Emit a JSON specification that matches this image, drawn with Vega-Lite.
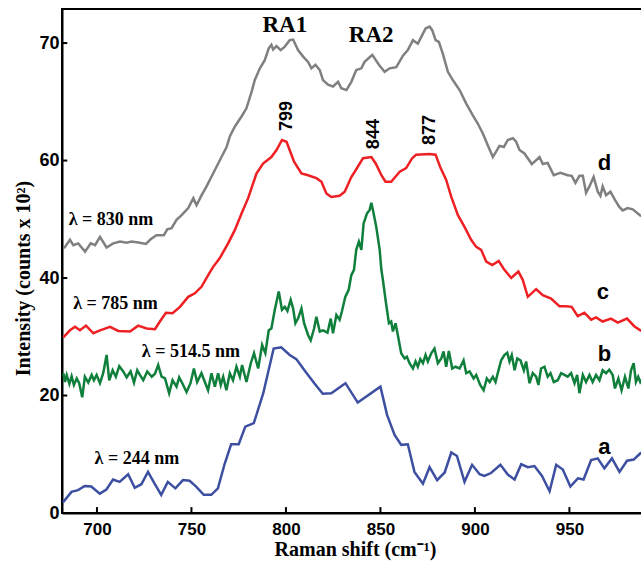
{
  "$schema": "https://vega.github.io/schema/vega-lite/v6.json",
  "width": 583,
  "height": 504,
  "autosize": {"type": "none"},
  "padding": {"left": 62, "top": 9, "right": 0, "bottom": 49},
  "background": "white",
  "config": {
    "view": {"stroke": "black", "strokeWidth": 2},
    "axis": {"grid": false, "domainColor": "black", "domainWidth": 2, "ticks": false, "labelFont": "Liberation Sans", "labelFontWeight": "bold", "labelColor": "black", "titleFont": "Liberation Serif", "titleFontWeight": "bold", "titleColor": "black", "titleFontSize": 20}
  },
  "datasets": {
    "spectra": [
      {"s":"a","x":682,"y":1.8},{"s":"a","x":686.5,"y":3.6},{"s":"a","x":690,"y":3.9},{"s":"a","x":693.5,"y":4.6},{"s":"a","x":697,"y":4.5},{"s":"a","x":701.5,"y":3.3},{"s":"a","x":705,"y":4.0},{"s":"a","x":708.5,"y":5.7},{"s":"a","x":712,"y":5.3},{"s":"a","x":716.5,"y":6.6},{"s":"a","x":720,"y":4.3},{"s":"a","x":723.5,"y":4.9},{"s":"a","x":727,"y":7.0},{"s":"a","x":730.5,"y":5.0},{"s":"a","x":734,"y":3.1},{"s":"a","x":737.5,"y":5.3},{"s":"a","x":741.5,"y":4.2},{"s":"a","x":745.5,"y":5.6},{"s":"a","x":749,"y":5.5},{"s":"a","x":752.5,"y":4.5},{"s":"a","x":756.5,"y":3.1},{"s":"a","x":760.5,"y":3.1},{"s":"a","x":764,"y":4.2},{"s":"a","x":767.5,"y":8.3},{"s":"a","x":771,"y":11.7},{"s":"a","x":775,"y":11.7},{"s":"a","x":778.5,"y":14.7},{"s":"a","x":783,"y":15.3},{"s":"a","x":788,"y":20.4},{"s":"a","x":793.5,"y":28.0},{"s":"a","x":797.5,"y":28.2},{"s":"a","x":802,"y":26.9},{"s":"a","x":805.5,"y":26.2},{"s":"a","x":810,"y":24.2},{"s":"a","x":815,"y":22.1},{"s":"a","x":819.5,"y":20.3},{"s":"a","x":824,"y":20.4},{"s":"a","x":831.5,"y":22.1},{"s":"a","x":838,"y":18.8},{"s":"a","x":850,"y":21.5},{"s":"a","x":853.5,"y":16.7},{"s":"a","x":857.5,"y":13.3},{"s":"a","x":861,"y":11.6},{"s":"a","x":864.5,"y":11.7},{"s":"a","x":868,"y":7.0},{"s":"a","x":872.5,"y":5.0},{"s":"a","x":876,"y":7.8},{"s":"a","x":880,"y":5.6},{"s":"a","x":884,"y":6.9},{"s":"a","x":887.5,"y":10.3},{"s":"a","x":890.5,"y":9.7},{"s":"a","x":894.5,"y":5.3},{"s":"a","x":898.5,"y":8.2},{"s":"a","x":902.5,"y":6.6},{"s":"a","x":905,"y":6.3},{"s":"a","x":908.5,"y":6.8},{"s":"a","x":913.5,"y":8.2},{"s":"a","x":917.5,"y":6.5},{"s":"a","x":921,"y":5.7},{"s":"a","x":924.5,"y":8.3},{"s":"a","x":928,"y":7.8},{"s":"a","x":931.5,"y":8.0},{"s":"a","x":935.5,"y":6.3},{"s":"a","x":939.5,"y":3.7},{"s":"a","x":943,"y":8.2},{"s":"a","x":946.5,"y":7.4},{"s":"a","x":950.5,"y":4.5},{"s":"a","x":954.5,"y":5.9},{"s":"a","x":957.5,"y":5.7},{"s":"a","x":961.5,"y":9.0},{"s":"a","x":965,"y":9.3},{"s":"a","x":968.5,"y":7.6},{"s":"a","x":972.5,"y":9.3},{"s":"a","x":976.5,"y":7.0},{"s":"a","x":980.5,"y":8.9},{"s":"a","x":984,"y":9.1},{"s":"a","x":988,"y":10.3},
      {"s":"b","x":682.2,"y":23.8},{"s":"b","x":683.1,"y":22.3},{"s":"b","x":684,"y":23.5},{"s":"b","x":685.4,"y":22.0},{"s":"b","x":686.6,"y":23.3},{"s":"b","x":687.8,"y":21.8},{"s":"b","x":689.3,"y":22.9},{"s":"b","x":690.6,"y":22.1},{"s":"b","x":692.2,"y":19.7},{"s":"b","x":693.6,"y":23.2},{"s":"b","x":695.4,"y":22.2},{"s":"b","x":697.2,"y":23.5},{"s":"b","x":698.4,"y":22.6},{"s":"b","x":699.8,"y":23.5},{"s":"b","x":701.6,"y":22.1},{"s":"b","x":703.3,"y":23.8},{"s":"b","x":705.1,"y":26.9},{"s":"b","x":706.5,"y":22.6},{"s":"b","x":708.3,"y":24.3},{"s":"b","x":710,"y":23.2},{"s":"b","x":711.8,"y":25.0},{"s":"b","x":713.9,"y":24.1},{"s":"b","x":715.7,"y":23.1},{"s":"b","x":717.8,"y":24.1},{"s":"b","x":719.6,"y":22.2},{"s":"b","x":721.3,"y":24.3},{"s":"b","x":722.7,"y":23.5},{"s":"b","x":724.5,"y":22.6},{"s":"b","x":726.6,"y":24.1},{"s":"b","x":729,"y":23.2},{"s":"b","x":730.7,"y":23.7},{"s":"b","x":732.4,"y":25.2},{"s":"b","x":734.2,"y":23.2},{"s":"b","x":736,"y":22.9},{"s":"b","x":738.2,"y":20.4},{"s":"b","x":740,"y":22.6},{"s":"b","x":742.1,"y":21.5},{"s":"b","x":743.5,"y":23.1},{"s":"b","x":745.3,"y":22.0},{"s":"b","x":747.4,"y":20.6},{"s":"b","x":749.5,"y":22.1},{"s":"b","x":751.3,"y":24.6},{"s":"b","x":753,"y":22.3},{"s":"b","x":755.3,"y":23.8},{"s":"b","x":757.1,"y":22.3},{"s":"b","x":758.8,"y":20.9},{"s":"b","x":760.6,"y":23.8},{"s":"b","x":762.4,"y":21.5},{"s":"b","x":764.1,"y":23.8},{"s":"b","x":765.5,"y":21.8},{"s":"b","x":766.8,"y":23.2},{"s":"b","x":768.5,"y":20.9},{"s":"b","x":770.3,"y":23.8},{"s":"b","x":772,"y":22.6},{"s":"b","x":773.8,"y":24.9},{"s":"b","x":775.6,"y":23.2},{"s":"b","x":776.8,"y":25.2},{"s":"b","x":779.1,"y":22.3},{"s":"b","x":781.4,"y":25.5},{"s":"b","x":783.1,"y":27.2},{"s":"b","x":785.3,"y":24.6},{"s":"b","x":787.4,"y":28.6},{"s":"b","x":789.1,"y":27.2},{"s":"b","x":790.9,"y":31.1},{"s":"b","x":792.3,"y":31.4},{"s":"b","x":794.1,"y":34.6},{"s":"b","x":796.2,"y":37.7},{"s":"b","x":797.9,"y":34.6},{"s":"b","x":799.4,"y":35.1},{"s":"b","x":800.8,"y":34.4},{"s":"b","x":802.5,"y":36.3},{"s":"b","x":803.8,"y":34.8},{"s":"b","x":805,"y":32.3},{"s":"b","x":806.4,"y":33.1},{"s":"b","x":808.2,"y":34.8},{"s":"b","x":809.6,"y":32.3},{"s":"b","x":811.7,"y":30.3},{"s":"b","x":813.1,"y":29.4},{"s":"b","x":814.9,"y":31.4},{"s":"b","x":816.1,"y":33.4},{"s":"b","x":817.9,"y":30.9},{"s":"b","x":819.6,"y":31.1},{"s":"b","x":822,"y":30.7},{"s":"b","x":823.7,"y":33.1},{"s":"b","x":824.9,"y":30.6},{"s":"b","x":826.7,"y":33.7},{"s":"b","x":828.4,"y":32.9},{"s":"b","x":829.6,"y":34.3},{"s":"b","x":831.4,"y":36.8},{"s":"b","x":833.2,"y":38.0},{"s":"b","x":834.6,"y":40.5},{"s":"b","x":836,"y":41.4},{"s":"b","x":837.2,"y":44.8},{"s":"b","x":838.6,"y":46.2},{"s":"b","x":839.9,"y":44.8},{"s":"b","x":841.1,"y":49.3},{"s":"b","x":842.9,"y":51.0},{"s":"b","x":844.3,"y":51.6},{"s":"b","x":845.2,"y":52.8},{"s":"b","x":846.4,"y":51.0},{"s":"b","x":847.8,"y":48.7},{"s":"b","x":849.6,"y":44.8},{"s":"b","x":850.5,"y":41.4},{"s":"b","x":851.3,"y":39.7},{"s":"b","x":852.7,"y":36.3},{"s":"b","x":854.5,"y":32.3},{"s":"b","x":855.7,"y":32.6},{"s":"b","x":856.6,"y":30.9},{"s":"b","x":858,"y":32.3},{"s":"b","x":859.2,"y":30.3},{"s":"b","x":861,"y":27.2},{"s":"b","x":862.8,"y":26.3},{"s":"b","x":864,"y":26.6},{"s":"b","x":865.4,"y":25.5},{"s":"b","x":867.2,"y":24.6},{"s":"b","x":868.6,"y":25.8},{"s":"b","x":869.8,"y":24.9},{"s":"b","x":871.1,"y":26.2},{"s":"b","x":872.5,"y":25.5},{"s":"b","x":873.9,"y":26.9},{"s":"b","x":875.1,"y":25.8},{"s":"b","x":876.9,"y":27.2},{"s":"b","x":878.6,"y":28.0},{"s":"b","x":880.4,"y":25.5},{"s":"b","x":882.2,"y":26.3},{"s":"b","x":883.4,"y":27.5},{"s":"b","x":884.8,"y":24.9},{"s":"b","x":886.2,"y":27.6},{"s":"b","x":888,"y":24.6},{"s":"b","x":889.7,"y":24.9},{"s":"b","x":891.9,"y":24.6},{"s":"b","x":894,"y":26.0},{"s":"b","x":895.4,"y":23.8},{"s":"b","x":897.2,"y":24.1},{"s":"b","x":899.3,"y":22.9},{"s":"b","x":900.7,"y":23.5},{"s":"b","x":902.8,"y":21.8},{"s":"b","x":904.6,"y":20.9},{"s":"b","x":906.3,"y":22.9},{"s":"b","x":907.8,"y":22.3},{"s":"b","x":909.5,"y":23.2},{"s":"b","x":910.9,"y":22.3},{"s":"b","x":912.4,"y":24.2},{"s":"b","x":913.9,"y":26.0},{"s":"b","x":915.6,"y":26.9},{"s":"b","x":917.1,"y":27.3},{"s":"b","x":918.3,"y":25.8},{"s":"b","x":919.5,"y":26.9},{"s":"b","x":921,"y":24.3},{"s":"b","x":922.4,"y":26.3},{"s":"b","x":924.1,"y":26.0},{"s":"b","x":925.9,"y":24.3},{"s":"b","x":927.1,"y":25.8},{"s":"b","x":928.9,"y":22.1},{"s":"b","x":930.6,"y":23.8},{"s":"b","x":932.4,"y":23.2},{"s":"b","x":933.6,"y":21.8},{"s":"b","x":935,"y":24.6},{"s":"b","x":936.8,"y":24.9},{"s":"b","x":938.5,"y":23.2},{"s":"b","x":940,"y":23.8},{"s":"b","x":941.7,"y":22.3},{"s":"b","x":943.8,"y":22.6},{"s":"b","x":945.6,"y":23.8},{"s":"b","x":947.4,"y":23.5},{"s":"b","x":949.1,"y":23.2},{"s":"b","x":950.9,"y":23.8},{"s":"b","x":952.7,"y":22.1},{"s":"b","x":954.1,"y":23.5},{"s":"b","x":955.3,"y":20.4},{"s":"b","x":957.1,"y":23.5},{"s":"b","x":958.8,"y":22.3},{"s":"b","x":960.6,"y":23.5},{"s":"b","x":962.3,"y":22.3},{"s":"b","x":964.1,"y":23.5},{"s":"b","x":965.9,"y":22.6},{"s":"b","x":967.6,"y":24.3},{"s":"b","x":969.4,"y":23.8},{"s":"b","x":971.1,"y":24.4},{"s":"b","x":972.9,"y":23.5},{"s":"b","x":974.1,"y":21.2},{"s":"b","x":975.9,"y":22.9},{"s":"b","x":977.6,"y":20.9},{"s":"b","x":979.4,"y":23.2},{"s":"b","x":981.2,"y":21.2},{"s":"b","x":982.6,"y":24.3},{"s":"b","x":984,"y":25.5},{"s":"b","x":985.2,"y":22.3},{"s":"b","x":986.4,"y":23.2},{"s":"b","x":987.5,"y":22.3},{"s":"b","x":989,"y":23.0},
      {"s":"c","x":682.2,"y":29.9},{"s":"c","x":685.7,"y":31.1},{"s":"c","x":688.4,"y":31.7},{"s":"c","x":691,"y":31.1},{"s":"c","x":694.2,"y":31.9},{"s":"c","x":698.1,"y":30.6},{"s":"c","x":701.6,"y":31.1},{"s":"c","x":706.9,"y":31.7},{"s":"c","x":711.3,"y":31.0},{"s":"c","x":717.5,"y":30.9},{"s":"c","x":721.8,"y":31.9},{"s":"c","x":726.3,"y":31.4},{"s":"c","x":730.7,"y":31.3},{"s":"c","x":733.3,"y":32.6},{"s":"c","x":736.5,"y":34.1},{"s":"c","x":740,"y":34.0},{"s":"c","x":743.9,"y":35.1},{"s":"c","x":748.3,"y":36.8},{"s":"c","x":751.8,"y":37.4},{"s":"c","x":755.3,"y":38.5},{"s":"c","x":759.4,"y":40.8},{"s":"c","x":761.5,"y":41.9},{"s":"c","x":765,"y":43.4},{"s":"c","x":769.4,"y":45.9},{"s":"c","x":773,"y":48.2},{"s":"c","x":776.5,"y":51.0},{"s":"c","x":780,"y":53.6},{"s":"c","x":784.4,"y":57.8},{"s":"c","x":787.9,"y":59.5},{"s":"c","x":792.3,"y":60.6},{"s":"c","x":795,"y":61.8},{"s":"c","x":797.9,"y":63.5},{"s":"c","x":800.3,"y":63.2},{"s":"c","x":804.3,"y":59.8},{"s":"c","x":808.2,"y":57.8},{"s":"c","x":811.7,"y":57.5},{"s":"c","x":816.1,"y":57.0},{"s":"c","x":818.8,"y":56.4},{"s":"c","x":821.4,"y":54.4},{"s":"c","x":824,"y":53.8},{"s":"c","x":828.4,"y":54.0},{"s":"c","x":831.1,"y":54.7},{"s":"c","x":834.6,"y":57.2},{"s":"c","x":836.4,"y":58.1},{"s":"c","x":840.8,"y":60.4},{"s":"c","x":845.2,"y":60.6},{"s":"c","x":847.5,"y":59.5},{"s":"c","x":850.5,"y":57.5},{"s":"c","x":852.7,"y":56.4},{"s":"c","x":855.7,"y":56.4},{"s":"c","x":860.2,"y":58.1},{"s":"c","x":863.6,"y":58.7},{"s":"c","x":866.8,"y":60.4},{"s":"c","x":868.9,"y":61.0},{"s":"c","x":876,"y":61.1},{"s":"c","x":879.2,"y":61.0},{"s":"c","x":881.6,"y":58.9},{"s":"c","x":884.8,"y":56.7},{"s":"c","x":887.5,"y":53.8},{"s":"c","x":891,"y":50.7},{"s":"c","x":894.5,"y":48.7},{"s":"c","x":898,"y":46.5},{"s":"c","x":900.7,"y":45.3},{"s":"c","x":903.3,"y":44.8},{"s":"c","x":906,"y":42.8},{"s":"c","x":909.2,"y":42.2},{"s":"c","x":912.6,"y":42.9},{"s":"c","x":915.6,"y":41.4},{"s":"c","x":919.2,"y":40.0},{"s":"c","x":923,"y":41.1},{"s":"c","x":925.3,"y":39.7},{"s":"c","x":928,"y":36.8},{"s":"c","x":932.4,"y":38.1},{"s":"c","x":935.9,"y":37.1},{"s":"c","x":940.3,"y":36.5},{"s":"c","x":944.7,"y":35.2},{"s":"c","x":948.2,"y":35.2},{"s":"c","x":951.2,"y":35.1},{"s":"c","x":954.4,"y":33.5},{"s":"c","x":957.9,"y":34.1},{"s":"c","x":961.5,"y":32.9},{"s":"c","x":964.1,"y":33.3},{"s":"c","x":967.6,"y":32.6},{"s":"c","x":972,"y":33.1},{"s":"c","x":975.6,"y":32.4},{"s":"c","x":980.5,"y":33.1},{"s":"c","x":984.3,"y":31.8},{"s":"c","x":988,"y":31.0},
      {"s":"d","x":682.5,"y":45.1},{"s":"d","x":683.1,"y":45.3},{"s":"d","x":685.7,"y":46.5},{"s":"d","x":687.5,"y":45.6},{"s":"d","x":690.1,"y":45.9},{"s":"d","x":693.7,"y":44.5},{"s":"d","x":696.7,"y":45.9},{"s":"d","x":699,"y":45.6},{"s":"d","x":701.6,"y":47.0},{"s":"d","x":705.1,"y":45.2},{"s":"d","x":708.6,"y":45.9},{"s":"d","x":712.2,"y":46.2},{"s":"d","x":715.7,"y":46.0},{"s":"d","x":718.3,"y":46.2},{"s":"d","x":722.7,"y":46.0},{"s":"d","x":725.9,"y":45.8},{"s":"d","x":728.4,"y":46.6},{"s":"d","x":731.5,"y":47.3},{"s":"d","x":735.4,"y":47.3},{"s":"d","x":737.2,"y":48.3},{"s":"d","x":739.5,"y":48.5},{"s":"d","x":742.1,"y":49.9},{"s":"d","x":744.8,"y":50.7},{"s":"d","x":748.3,"y":51.9},{"s":"d","x":751,"y":53.6},{"s":"d","x":752.7,"y":52.4},{"s":"d","x":755.4,"y":54.1},{"s":"d","x":758,"y":55.6},{"s":"d","x":759.7,"y":56.7},{"s":"d","x":762.4,"y":58.4},{"s":"d","x":765.9,"y":60.6},{"s":"d","x":768.6,"y":62.3},{"s":"d","x":770.3,"y":64.1},{"s":"d","x":773,"y":65.8},{"s":"d","x":776.5,"y":67.5},{"s":"d","x":779.1,"y":68.9},{"s":"d","x":781.8,"y":71.7},{"s":"d","x":783.5,"y":73.7},{"s":"d","x":786.2,"y":75.7},{"s":"d","x":788.8,"y":77.1},{"s":"d","x":790.9,"y":79.1},{"s":"d","x":792.3,"y":79.7},{"s":"d","x":793.2,"y":78.9},{"s":"d","x":795,"y":79.5},{"s":"d","x":797.2,"y":78.8},{"s":"d","x":799.4,"y":79.4},{"s":"d","x":802,"y":80.5},{"s":"d","x":803.8,"y":80.6},{"s":"d","x":806.4,"y":78.8},{"s":"d","x":809.1,"y":77.7},{"s":"d","x":811.7,"y":76.8},{"s":"d","x":813.5,"y":75.7},{"s":"d","x":815.6,"y":76.3},{"s":"d","x":817.9,"y":75.4},{"s":"d","x":819.6,"y":73.7},{"s":"d","x":822.3,"y":72.9},{"s":"d","x":824.9,"y":72.6},{"s":"d","x":827.6,"y":73.4},{"s":"d","x":829.3,"y":72.3},{"s":"d","x":832,"y":72.0},{"s":"d","x":834.6,"y":73.4},{"s":"d","x":837.2,"y":75.4},{"s":"d","x":839.9,"y":75.7},{"s":"d","x":841.6,"y":76.8},{"s":"d","x":845.7,"y":78.0},{"s":"d","x":849.2,"y":76.3},{"s":"d","x":852.2,"y":75.1},{"s":"d","x":854.9,"y":75.7},{"s":"d","x":858.4,"y":75.9},{"s":"d","x":862,"y":77.9},{"s":"d","x":864.5,"y":78.8},{"s":"d","x":867.2,"y":80.5},{"s":"d","x":869.8,"y":79.9},{"s":"d","x":872.5,"y":81.6},{"s":"d","x":873.9,"y":82.5},{"s":"d","x":876,"y":82.8},{"s":"d","x":877.4,"y":82.2},{"s":"d","x":879.2,"y":80.5},{"s":"d","x":880.9,"y":80.2},{"s":"d","x":883,"y":78.2},{"s":"d","x":885.7,"y":75.1},{"s":"d","x":888.3,"y":73.7},{"s":"d","x":891.9,"y":72.0},{"s":"d","x":895.4,"y":69.7},{"s":"d","x":898.9,"y":67.7},{"s":"d","x":901.5,"y":66.3},{"s":"d","x":904.2,"y":64.6},{"s":"d","x":906.8,"y":62.6},{"s":"d","x":909.5,"y":60.6},{"s":"d","x":913,"y":62.5},{"s":"d","x":915.3,"y":62.3},{"s":"d","x":917.4,"y":63.5},{"s":"d","x":920.1,"y":63.8},{"s":"d","x":921.8,"y":63.2},{"s":"d","x":923.6,"y":61.8},{"s":"d","x":926.2,"y":61.2},{"s":"d","x":930.1,"y":59.4},{"s":"d","x":934.2,"y":60.6},{"s":"d","x":935.9,"y":59.4},{"s":"d","x":938.5,"y":59.6},{"s":"d","x":941.7,"y":57.5},{"s":"d","x":945.2,"y":57.9},{"s":"d","x":949.1,"y":57.5},{"s":"d","x":951.2,"y":57.4},{"s":"d","x":953.2,"y":56.2},{"s":"d","x":955.3,"y":57.4},{"s":"d","x":957.1,"y":57.4},{"s":"d","x":958.8,"y":54.5},{"s":"d","x":960.6,"y":55.6},{"s":"d","x":962.8,"y":57.2},{"s":"d","x":965,"y":54.7},{"s":"d","x":966.4,"y":54.0},{"s":"d","x":967.6,"y":55.6},{"s":"d","x":969.4,"y":54.1},{"s":"d","x":971.7,"y":54.7},{"s":"d","x":974.1,"y":53.3},{"s":"d","x":976.4,"y":52.1},{"s":"d","x":978.2,"y":51.5},{"s":"d","x":980.8,"y":51.9},{"s":"d","x":983.5,"y":51.7},{"s":"d","x":988,"y":50.5}
    ],
    "xticks": [{"v":700},{"v":750},{"v":800},{"v":850},{"v":900},{"v":950}],
    "yticks": [{"v":0},{"v":20},{"v":40},{"v":60},{"v":80}],
    "lambda": [
      {"t":"λ = 830 nm","x":707.4,"y":49.9},
      {"t":"λ = 785 nm","x":709.8,"y":35.6},
      {"t":"λ = 514.5 nm","x":749.7,"y":27.4},
      {"t":"λ = 244 nm","x":721.1,"y":9.2}
    ],
    "ra": [
      {"t":"RA1","x":799.4,"y":81.9},
      {"t":"RA2","x":845.1,"y":80.2}
    ],
    "peaks": [
      {"t":"799","x":800.7,"y":67.6},
      {"t":"844","x":846.4,"y":64.5},
      {"t":"877","x":876,"y":65.2}
    ],
    "letters": [
      {"t":"d","x":968.5,"y":59.6},
      {"t":"c","x":967.7,"y":37.6},
      {"t":"b","x":968.5,"y":27.1},
      {"t":"a","x":968.5,"y":11.2}
    ]
  },
  "layer": [
    {
      "data": {"name": "spectra"},
      "mark": {"type": "line", "strokeWidth": 2.5, "clip": true},
      "encoding": {
        "x": {"field": "x", "type": "quantitative", "scale": {"domain": [681.5, 990], "nice": false, "zero": false},
              "axis": {"values": [700, 750, 800, 850, 900, 950], "labelFontSize": 17, "labelPadding": 8, "title": "Raman shift (cm⁻¹)", "titleX": 293, "titleY": 42, "titleBaseline": "alphabetic"}},
        "y": {"field": "y", "type": "quantitative", "scale": {"domain": [0, 85.8], "nice": false},
              "axis": {"values": [0, 20, 40, 60, 80], "labelExpr": "datum.value == 80 ? '70' : datum.label", "labelFontSize": 18, "labelPadding": 3, "title": "Intensity (counts x 10²)", "titleX": -33, "titleY": 269, "titleBaseline": "alphabetic"}},
        "color": {"field": "s", "type": "nominal", "legend": null,
                  "scale": {"domain": ["a", "b", "c", "d"], "range": ["#3d4fa1", "#0f7f3b", "#ee2024", "#808080"]}},
        "order": {"field": "x", "type": "quantitative"}
      }
    },
    {
      "data": {"name": "xticks"},
      "mark": {"type": "rule", "color": "black", "strokeWidth": 2},
      "encoding": {"x": {"field": "v", "type": "quantitative"}, "y": {"datum": 0}, "y2": {"datum": 1.0}}
    },
    {
      "data": {"name": "yticks"},
      "mark": {"type": "rule", "color": "black", "strokeWidth": 2},
      "encoding": {"y": {"field": "v", "type": "quantitative"}, "x": {"datum": 681.5}, "x2": {"datum": 684.3}}
    },
    {
      "data": {"name": "lambda"},
      "mark": {"type": "text", "font": "Liberation Serif", "fontWeight": "bold", "fontSize": 18, "align": "center", "baseline": "middle", "color": "black"},
      "encoding": {"x": {"field": "x", "type": "quantitative"}, "y": {"field": "y", "type": "quantitative"}, "text": {"field": "t"}}
    },
    {
      "data": {"name": "ra"},
      "mark": {"type": "text", "font": "Liberation Serif", "fontWeight": "bold", "fontSize": 23, "align": "center", "baseline": "alphabetic", "color": "black"},
      "encoding": {"x": {"field": "x", "type": "quantitative"}, "y": {"field": "y", "type": "quantitative"}, "text": {"field": "t"}}
    },
    {
      "data": {"name": "peaks"},
      "mark": {"type": "text", "font": "Liberation Sans", "fontWeight": "bold", "fontSize": 18, "angle": 270, "align": "center", "baseline": "middle", "color": "black"},
      "encoding": {"x": {"field": "x", "type": "quantitative"}, "y": {"field": "y", "type": "quantitative"}, "text": {"field": "t"}}
    },
    {
      "data": {"name": "letters"},
      "mark": {"type": "text", "font": "Liberation Sans", "fontWeight": "bold", "fontSize": 22, "align": "center", "baseline": "middle", "color": "black"},
      "encoding": {"x": {"field": "x", "type": "quantitative"}, "y": {"field": "y", "type": "quantitative"}, "text": {"field": "t"}}
    }
  ]
}
